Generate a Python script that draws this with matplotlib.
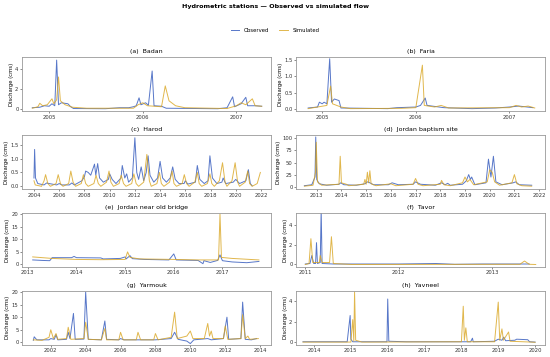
import matplotlib
matplotlib.use('Agg')
import numpy as np
import matplotlib.pyplot as plt

# (decimal year, discharge in cms) pairs
badan_obs = [(2004.82, 0.1), (2004.9, 0.15), (2004.95, 0.3), (2005.0, 0.25), (2005.03, 0.5), (2005.06, 0.3),
             (2005.08, 4.9), (2005.1, 0.4), (2005.13, 0.6), (2005.2, 0.5), (2005.23, 0.2), (2005.26, 0.02),
             (2005.6, 0.0), (2005.75, 0.1), (2005.85, 0.1), (2005.9, 0.2), (2005.93, 0.3), (2005.96, 1.1),
             (2005.98, 0.4), (2006.03, 0.6), (2006.06, 0.35), (2006.1, 3.8), (2006.12, 0.3), (2006.2, 0.25),
             (2006.25, 0.05), (2006.8, 0.0), (2006.9, 0.1), (2006.96, 1.2), (2006.98, 0.2), (2007.05, 0.5),
             (2007.1, 1.15), (2007.12, 0.3), (2007.2, 0.3), (2007.27, 0.25)]
badan_sim = [(2004.82, 0.05), (2004.88, 0.2), (2004.9, 0.55), (2004.93, 0.3), (2004.98, 0.4), (2005.03, 1.0),
             (2005.05, 0.5), (2005.08, 0.9), (2005.1, 3.2), (2005.12, 0.8), (2005.17, 0.4), (2005.25, 0.15),
             (2005.4, 0.05), (2005.9, 0.05), (2005.95, 0.4), (2006.0, 0.6), (2006.05, 0.3), (2006.2, 0.2),
             (2006.24, 2.3), (2006.28, 0.8), (2006.35, 0.3), (2006.45, 0.1), (2006.9, 0.02), (2007.0, 0.3),
             (2007.05, 0.6), (2007.1, 0.4), (2007.17, 1.0), (2007.2, 0.3), (2007.27, 0.25)]

faria_obs = [(2004.85, 0.02), (2004.95, 0.05), (2004.97, 0.2), (2005.0, 0.15), (2005.02, 0.2), (2005.05, 0.15),
             (2005.08, 1.55), (2005.1, 0.2), (2005.13, 0.3), (2005.18, 0.25), (2005.2, 0.02), (2005.7, 0.0),
             (2005.8, 0.03), (2006.0, 0.05), (2006.05, 0.1), (2006.1, 0.33), (2006.12, 0.1), (2006.3, 0.03),
             (2006.6, 0.0), (2006.85, 0.02), (2007.0, 0.05), (2007.1, 0.08), (2007.25, 0.03)]
faria_sim = [(2004.85, 0.0), (2004.95, 0.05), (2005.05, 0.1), (2005.09, 0.7), (2005.11, 0.15), (2005.2, 0.05),
             (2005.3, 0.0), (2005.85, 0.01), (2006.0, 0.03), (2006.07, 1.35), (2006.09, 0.1), (2006.2, 0.05),
             (2006.27, 0.1), (2006.35, 0.02), (2007.0, 0.03), (2007.07, 0.1), (2007.13, 0.05), (2007.2, 0.08),
             (2007.27, 0.02)]

harod_obs = [(2004.0, 0.3), (2004.05, 1.33), (2004.12, 0.3), (2004.3, 0.1), (2004.8, 0.05), (2005.0, 0.12),
             (2005.2, 0.1), (2005.8, 0.05), (2006.0, 0.1), (2006.2, 0.05), (2006.8, 0.05), (2007.0, 0.12),
             (2007.2, 0.05), (2007.8, 0.2), (2008.0, 0.35), (2008.1, 0.55), (2008.3, 0.5), (2008.5, 0.4),
             (2008.8, 0.8), (2008.9, 0.4), (2009.05, 0.82), (2009.2, 0.3), (2009.5, 0.15), (2009.9, 0.25),
             (2010.0, 0.45), (2010.2, 0.25), (2010.5, 0.1), (2010.9, 0.3), (2011.0, 0.75), (2011.2, 0.3),
             (2011.35, 0.45), (2011.5, 0.15), (2011.8, 0.3), (2012.0, 1.75), (2012.15, 0.5), (2012.3, 0.25),
             (2012.5, 0.7), (2012.7, 0.2), (2012.9, 0.5), (2013.05, 1.1), (2013.2, 0.4), (2013.5, 0.15),
             (2013.8, 0.3), (2014.0, 0.9), (2014.2, 0.3), (2014.5, 0.15), (2014.8, 0.3), (2015.0, 0.7),
             (2015.2, 0.25), (2015.5, 0.1), (2015.9, 0.1), (2016.0, 0.2), (2016.2, 0.08), (2016.8, 0.15),
             (2016.95, 0.75), (2017.15, 0.25), (2017.5, 0.1), (2017.8, 0.2), (2017.95, 1.1), (2018.15, 0.3),
             (2018.5, 0.1), (2018.9, 0.15), (2019.0, 0.3), (2019.2, 0.1), (2019.8, 0.15), (2020.0, 0.25),
             (2020.3, 0.1), (2020.8, 0.2), (2021.0, 0.6), (2021.15, 0.1), (2021.3, 0.02)]
harod_sim = [(2004.0, 0.2), (2004.1, 0.05), (2004.6, 0.0), (2004.8, 0.2), (2004.92, 0.42), (2005.1, 0.1),
             (2005.3, 0.0), (2005.75, 0.1), (2005.92, 0.42), (2006.1, 0.1), (2006.3, 0.0), (2006.75, 0.1),
             (2006.92, 0.55), (2007.1, 0.15), (2007.3, 0.0), (2007.75, 0.1), (2007.92, 0.42), (2008.1, 0.1),
             (2008.3, 0.0), (2008.75, 0.1), (2008.92, 0.4), (2009.1, 0.1), (2009.3, 0.0), (2009.75, 0.15),
             (2009.95, 0.55), (2010.1, 0.15), (2010.3, 0.0), (2010.75, 0.1), (2010.92, 0.4), (2011.1, 0.1),
             (2011.3, 0.0), (2011.75, 0.1), (2011.92, 0.45), (2012.1, 0.1), (2012.3, 0.0), (2012.7, 0.15),
             (2012.95, 1.15), (2013.15, 0.2), (2013.3, 0.0), (2013.75, 0.1), (2013.95, 0.5), (2014.1, 0.1),
             (2014.3, 0.0), (2014.75, 0.15), (2014.95, 0.55), (2015.1, 0.1), (2015.3, 0.0), (2015.75, 0.1),
             (2015.92, 0.42), (2016.1, 0.1), (2016.3, 0.0), (2016.75, 0.15), (2016.95, 0.5), (2017.1, 0.1),
             (2017.3, 0.0), (2017.75, 0.1), (2017.95, 0.45), (2018.1, 0.1), (2018.3, 0.0), (2018.7, 0.2),
             (2018.95, 0.85), (2019.15, 0.15), (2019.3, 0.0), (2019.7, 0.2), (2019.95, 0.85), (2020.15, 0.15),
             (2020.3, 0.0), (2020.75, 0.15), (2020.95, 0.55), (2021.1, 0.1), (2021.3, 0.0), (2021.7, 0.1),
             (2021.95, 0.5)]

baptism_obs = [(2012.5, 2), (2012.8, 4), (2012.93, 20), (2012.96, 103), (2013.0, 15), (2013.1, 6), (2013.4, 3),
               (2013.9, 5), (2013.97, 8), (2014.1, 4), (2014.6, 3), (2014.95, 6), (2015.05, 10), (2015.15, 8),
               (2015.3, 4), (2015.9, 4), (2016.05, 8), (2016.3, 4), (2016.9, 5), (2017.0, 10), (2017.2, 5),
               (2017.8, 3), (2018.05, 8), (2018.2, 4), (2018.3, 7), (2018.4, 3), (2018.9, 5), (2019.05, 12),
               (2019.15, 25), (2019.22, 15), (2019.27, 20), (2019.4, 4), (2019.85, 8), (2019.95, 57),
               (2020.05, 20), (2020.15, 63), (2020.25, 10), (2020.5, 4), (2020.95, 8), (2021.05, 10),
               (2021.2, 4), (2021.7, 3)]
baptism_sim = [(2012.5, 1), (2012.85, 3), (2012.95, 30), (2012.98, 92), (2013.03, 10), (2013.2, 3), (2013.9, 5),
               (2013.95, 63), (2014.0, 8), (2014.2, 5), (2014.3, 2), (2014.9, 5), (2014.95, 15), (2015.0, 5),
               (2015.05, 30), (2015.1, 8), (2015.15, 33), (2015.2, 6), (2015.4, 2), (2016.0, 6), (2016.2, 2),
               (2016.9, 5), (2017.0, 17), (2017.1, 5), (2017.3, 2), (2018.0, 5), (2018.05, 13), (2018.15, 4),
               (2018.4, 2), (2018.9, 8), (2019.0, 20), (2019.1, 10), (2019.2, 15), (2019.35, 4), (2019.9, 10),
               (2020.0, 35), (2020.1, 30), (2020.2, 10), (2020.4, 3), (2020.9, 8), (2021.0, 25), (2021.1, 6),
               (2021.3, 2), (2021.7, 1)]

bridge_obs = [(2013.1, 1.8), (2013.3, 1.6), (2013.45, 1.5), (2013.5, 2.7), (2013.9, 2.7), (2013.95, 3.2),
              (2014.0, 2.7), (2014.5, 2.6), (2014.55, 2.2), (2014.9, 2.4), (2015.0, 3.0), (2015.02, 2.2),
              (2015.1, 3.5), (2015.15, 2.3), (2015.4, 2.0), (2015.9, 1.8), (2016.0, 4.2), (2016.05, 1.8),
              (2016.5, 1.6), (2016.6, 0.3), (2016.62, 1.5), (2016.75, 0.8), (2016.9, 1.6), (2016.95, 3.8),
              (2017.0, 1.5), (2017.2, 1.0), (2017.5, 0.7), (2017.75, 1.2)]
bridge_sim = [(2013.1, 3.0), (2013.5, 2.4), (2014.0, 2.0), (2014.5, 1.9), (2015.0, 2.0), (2015.05, 5.0),
              (2015.1, 2.8), (2015.3, 2.2), (2016.0, 2.0), (2016.5, 1.8), (2016.92, 1.8), (2016.95, 20.0),
              (2016.98, 2.8), (2017.2, 2.4), (2017.75, 1.8)]

tavor_obs = [(2011.0, 0.05), (2011.05, 0.1), (2011.07, 0.9), (2011.09, 0.1), (2011.11, 0.1), (2011.12, 2.2),
             (2011.13, 0.1), (2011.16, 0.2), (2011.17, 5.5), (2011.18, 0.1), (2011.3, 0.05), (2012.0, 0.05),
             (2012.4, 0.1), (2012.6, 0.02), (2012.9, 0.05), (2013.4, 0.05)]
tavor_sim = [(2011.0, 0.0), (2011.04, 0.1), (2011.06, 2.6), (2011.08, 0.2), (2011.15, 0.2), (2011.16, 0.9),
             (2011.18, 0.2), (2011.26, 0.2), (2011.28, 2.8), (2011.3, 0.1), (2011.5, 0.0), (2013.3, 0.02),
             (2013.35, 0.35), (2013.4, 0.02), (2013.47, 0.0)]

yarmouk_obs = [(2001.0, 0.8), (2001.05, 2.2), (2001.2, 1.0), (2001.9, 1.0), (2002.0, 1.5), (2002.2, 1.2),
               (2002.3, 3.0), (2002.4, 1.0), (2002.9, 1.2), (2003.0, 4.0), (2003.1, 1.5), (2003.3, 11.5),
               (2003.4, 1.2), (2003.9, 1.3), (2004.0, 20.0), (2004.15, 1.2), (2004.9, 1.0), (2005.1, 8.5),
               (2005.2, 1.2), (2005.9, 1.0), (2006.0, 1.5), (2006.2, 1.0), (2007.0, 1.0), (2008.0, 1.0),
               (2008.9, 1.5), (2009.1, 4.0), (2009.3, 1.2), (2009.8, 0.5), (2010.0, -0.5), (2010.2, 1.0),
               (2011.0, 1.5), (2011.2, 1.0), (2011.9, 1.5), (2012.1, 10.0), (2012.2, 1.2), (2012.9, 1.5),
               (2013.0, 16.0), (2013.15, 1.2), (2013.5, 1.0), (2013.8, 1.5)]
yarmouk_sim = [(2001.0, 1.0), (2001.5, 0.8), (2001.9, 2.0), (2002.0, 5.0), (2002.15, 1.5), (2002.3, 3.5),
               (2002.4, 1.2), (2002.9, 1.5), (2003.0, 6.0), (2003.15, 1.2), (2003.9, 1.5), (2004.0, 8.0),
               (2004.15, 1.2), (2004.9, 1.0), (2005.1, 5.5), (2005.2, 1.0), (2005.9, 1.0), (2006.0, 4.0),
               (2006.15, 1.0), (2006.9, 1.0), (2007.0, 4.0), (2007.15, 1.0), (2007.9, 1.0), (2008.0, 3.5),
               (2008.15, 1.0), (2008.9, 2.0), (2009.1, 12.0), (2009.25, 1.5), (2009.8, 2.5), (2010.0, 4.5),
               (2010.15, 1.5), (2010.8, 1.5), (2011.0, 7.5), (2011.1, 2.5), (2011.2, 4.5), (2011.3, 1.5),
               (2011.9, 1.5), (2012.0, 6.5), (2012.15, 1.2), (2012.9, 1.5), (2013.0, 11.0), (2013.15, 1.5),
               (2013.3, 2.5), (2013.4, 1.2), (2013.9, 1.5)]

yavneel_obs = [(2013.7, 0.05), (2014.9, 0.05), (2014.98, 2.6), (2015.0, 0.3), (2015.05, 0.05), (2015.98, 0.05),
               (2016.0, 4.2), (2016.03, 0.1), (2016.5, 0.05), (2018.25, 0.05), (2018.3, 0.4), (2018.32, 0.05),
               (2018.9, 0.1), (2019.0, 0.3), (2019.1, 0.2), (2019.15, 0.5), (2019.2, 0.15), (2019.45, 0.2),
               (2019.5, 0.3), (2019.8, 0.25), (2019.85, 0.05), (2020.0, 0.02)]
yavneel_sim = [(2013.7, 0.02), (2015.0, 0.02), (2015.05, 2.2), (2015.08, 0.1), (2015.1, 4.9), (2015.13, 0.2),
               (2015.3, 0.02), (2018.0, 0.05), (2018.05, 3.5), (2018.08, 0.2), (2018.12, 1.4), (2018.16, 0.05),
               (2018.9, 0.05), (2019.0, 3.9), (2019.04, 0.2), (2019.1, 1.3), (2019.14, 0.2), (2019.28, 1.0),
               (2019.32, 0.1), (2019.9, 0.02), (2020.0, 0.0)]

titles = ['(a)  Badan', '(b)  Faria', '(c)  Harod', '(d)  Jordan baptism site',
          '(e)  Jordan near old bridge', '(f)  Tavor', '(g)  Yarmouk', '(h)  Yavneel']
series = [(badan_obs, badan_sim), (faria_obs, faria_sim), (harod_obs, harod_sim),
          (baptism_obs, baptism_sim), (bridge_obs, bridge_sim), (tavor_obs, tavor_sim),
          (yarmouk_obs, yarmouk_sim), (yavneel_obs, yavneel_sim)]
x_ticks = [[2005, 2006, 2007], [2005, 2006, 2007], list(range(2004, 2023, 2)), list(range(2013, 2023)),
           list(range(2013, 2018)), [2011, 2012, 2013], list(range(2002, 2015, 2)), list(range(2014, 2021))]
x_lims = [(2004.71, 2007.37), (2004.72, 2007.38), (2003.05, 2022.8), (2012.16, 2022.24),
          (2012.88, 2018.0), (2010.9, 2013.57), (2000.35, 2014.63), (2013.51, 2020.27)]
y_ticks = [[0, 2, 4], [0.0, 0.5, 1.0, 1.5], [0.0, 0.5, 1.0, 1.5], [0, 25, 50, 75, 100],
           [0, 5, 10, 15, 20], [0, 2, 4], [0, 5, 10, 15, 20], [0, 2, 4]]
y_lims = [(-0.25, 5.2), (-0.08, 1.6), (-0.1, 1.85), (-5, 107), (-1, 20.5), (-0.25, 5.2), (-1, 20.5), (-0.25, 5.0)]
y_fmt = ['{:.0f}', '{:.1f}', '{:.1f}', '{:.0f}', '{:.0f}', '{:.0f}', '{:.0f}', '{:.0f}']

obs_color = '#3a5fbf'
sim_color = '#d9a520'

fig, axes = plt.subplots(4, 2, figsize=(5.5, 3.57), dpi=100)
fig.subplots_adjust(left=0.04, right=0.991, top=0.84, bottom=0.034, wspace=0.1, hspace=0.44)

for i, ax in enumerate(axes.flat):
    obs, sim = series[i]
    ot, oq = zip(*obs)
    st, sq = zip(*sim)
    l1, = ax.plot(ot, oq, color=obs_color, lw=0.7, alpha=0.85, label='Observed')
    l2, = ax.plot(st, sq, color=sim_color, lw=0.7, alpha=0.8, label='Simulated')
    ax.set_xlim(*x_lims[i])
    ax.set_ylim(*y_lims[i])
    ax.set_xticks(x_ticks[i])
    ax.set_xticklabels([str(t) for t in x_ticks[i]])
    ax.set_yticks(y_ticks[i])
    ax.set_yticklabels([y_fmt[i].format(v) for v in y_ticks[i]])
    ax.tick_params(labelsize=3.8, length=1.5, width=0.4, pad=1, colors='#333333')
    ax.set_title(titles[i], fontsize=4.5, pad=3)
    ax.set_ylabel('Discharge (cms)', fontsize=3.8, labelpad=1)
    for sp in ax.spines.values():
        sp.set_color('#999999')
        sp.set_linewidth(0.6)

fig.suptitle('Hydrometric stations — Observed vs simulated flow', fontsize=4.6, fontweight='bold',
             y=0.982, va='center')
fig.legend([l1, l2], ['Observed', 'Simulated'], loc='center', bbox_to_anchor=(0.5, 0.915), ncol=2,
           frameon=False, fontsize=3.8, handlelength=1.6, columnspacing=2.0)

plt.savefig('out.png', dpi=100)
